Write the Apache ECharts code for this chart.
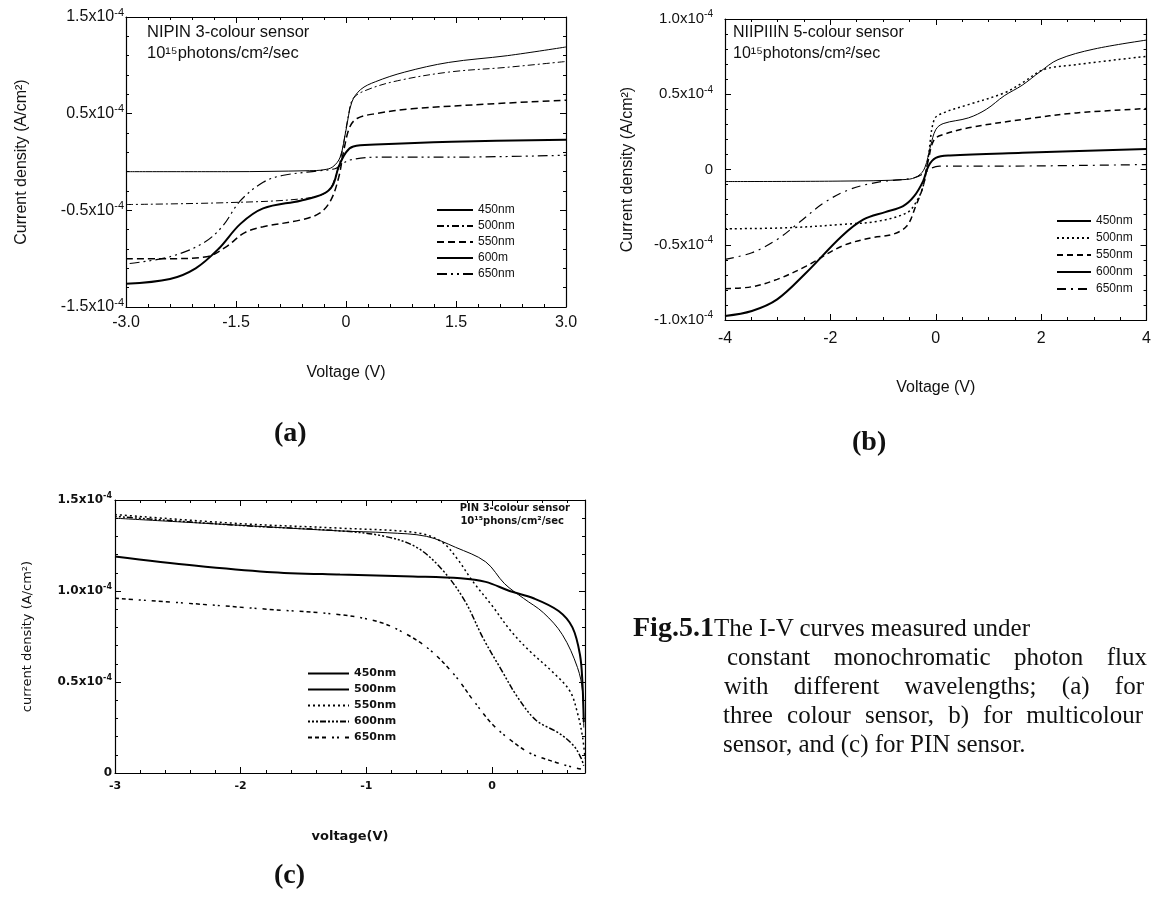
<!DOCTYPE html>
<html>
<head>
<meta charset="utf-8">
<script src="https://cdn.jsdelivr.net/npm/echarts@6/dist/echarts.min.js"></script>
<style>
body { margin: 0; background: #fff; }
#chart { position: absolute; left: 0; top: 0; width: 1154px; height: 905px; }
.cap { position: absolute; font-family: "Liberation Serif", serif; font-size: 25px; line-height: 29px; color: #111; white-space: nowrap; }
.just { width: 420px; text-align: justify; text-align-last: justify; white-space: normal; }
</style>
</head>
<body>
<div id="chart"></div>
<div class="cap" style="left:633px; top:612px;"><b style="font-size:28px">Fig.5.1</b>The I-V curves measured under</div>
<div class="cap just" style="left:727px; top:642px;">constant monochromatic photon flux</div>
<div class="cap just" style="left:724px; top:671px;">with different wavelengths; (a) for</div>
<div class="cap just" style="left:723px; top:700px;">three colour sensor, b) for multicolour</div>
<div class="cap" style="left:723px; top:729px;">sensor, and (c) for PIN sensor.</div>
<script>
//图例名称
var namesA = ['450nm', '500nm', '550nm', '600m', '650nm'];
var namesB = ['450nm', '500nm', '550nm', '600nm', '650nm'];
var namesC = ['450nm', '500nm', '550nm', '600nm', '650nm'];

//(a) NIPIN 3-colour sensor, [voltage V, current density in 1e-4 A/cm2]
var a450 = [[-3, -0.10], [-1.6, -0.10], [-0.5, -0.09], [-0.3, -0.08], [-0.18, -0.05], [-0.08, 0.05], [0, 0.33], [0.08, 0.62], [0.2, 0.75], [0.4, 0.83], [0.8, 0.93], [1.4, 1.03], [2.2, 1.10], [3, 1.19]];
var a500 = [[-3, -0.44], [-1.6, -0.42], [-0.6, -0.38], [-0.26, -0.31], [-0.13, -0.12], [-0.05, 0.12], [0.03, 0.47], [0.1, 0.66], [0.3, 0.75], [0.7, 0.84], [1.4, 0.93], [2.2, 0.98], [3, 1.04]];
var a550 = [[-3, -1.00], [-2.4, -1.00], [-1.9, -0.98], [-1.64, -0.88], [-1.38, -0.73], [-1.13, -0.67], [-0.62, -0.60], [-0.36, -0.53], [-0.21, -0.40], [-0.1, -0.16], [-0.03, 0.12], [0.05, 0.36], [0.15, 0.45], [0.4, 0.50], [0.9, 0.55], [1.95, 0.60], [3, 0.64]];
var a600 = [[-3, -1.26], [-2.4, -1.21], [-2.05, -1.10], [-1.74, -0.90], [-1.44, -0.64], [-1.13, -0.48], [-0.62, -0.40], [-0.31, -0.33], [-0.18, -0.24], [-0.1, -0.05], [0, 0.10], [0.1, 0.16], [0.4, 0.18], [1.44, 0.21], [3, 0.23]];
var a650 = [[-2.95, -1.05], [-2.4, -0.98], [-1.95, -0.84], [-1.69, -0.67], [-1.44, -0.40], [-1.13, -0.21], [-0.87, -0.14], [-0.36, -0.09], [-0.15, -0.07], [-0.05, -0.02], [0.05, 0.02], [0.4, 0.05], [1.44, 0.05], [3, 0.07]];

//(b) NIIPIIIN 5-colour sensor
var b450 = [[-4, -0.08], [-1.8, -0.077], [-0.55, -0.066], [-0.34, -0.044], [-0.21, 0.01], [-0.1, 0.155], [0, 0.265], [0.14, 0.305], [0.62, 0.343], [0.96, 0.40], [1.3, 0.49], [1.64, 0.56], [1.98, 0.65], [2.32, 0.73], [3, 0.80], [4, 0.86]];
var b500 = [[-4, -0.394], [-2.8, -0.387], [-1.78, -0.365], [-1.09, -0.343], [-0.55, -0.288], [-0.38, -0.221], [-0.24, -0.111], [-0.14, 0.088], [-0.03, 0.332], [0.14, 0.376], [0.62, 0.431], [1.3, 0.509], [1.64, 0.575], [2.05, 0.664], [2.67, 0.697], [4, 0.752]];
var b550 = [[-4, -0.792], [-3.49, -0.779], [-3.01, -0.73], [-2.46, -0.642], [-1.78, -0.509], [-1.23, -0.454], [-0.82, -0.431], [-0.55, -0.376], [-0.38, -0.243], [-0.24, -0.111], [-0.14, 0.066], [-0.03, 0.199], [0.14, 0.232], [0.62, 0.277], [1.64, 0.332], [2.67, 0.376], [4, 0.405]];
var b600 = [[-4, -0.973], [-3.49, -0.94], [-3.01, -0.863], [-2.46, -0.686], [-1.78, -0.442], [-1.37, -0.332], [-0.96, -0.283], [-0.62, -0.243], [-0.41, -0.177], [-0.24, -0.077], [-0.14, 0.022], [0, 0.077], [0.27, 0.093], [1.64, 0.111], [4, 0.137]];
var b650 = [[-4, -0.597], [-3.49, -0.553], [-3.01, -0.465], [-2.6, -0.354], [-2.12, -0.221], [-1.64, -0.133], [-1.09, -0.084], [-0.41, -0.055], [-0.21, -0.022], [-0.07, 0.011], [0.07, 0.022], [0.96, 0.022], [4, 0.033]];

//(c) PIN 3-colour sensor
var c450 = [[-3, 1.19], [-2.37, 1.14], [-1.79, 1.105], [-1.21, 1.09], [-0.63, 1.08], [-0.25, 1.07], [-0.05, 1.05], [0.14, 1.0], [0.33, 0.96], [0.53, 0.89], [0.64, 0.80], [0.70, 0.65], [0.72, 0.49], [0.73, 0.28]];
var c500 = [[-3, 1.40], [-1.98, 1.36], [-1.21, 1.33], [-0.83, 1.32], [-0.52, 1.30], [-0.29, 1.24], [-0.05, 1.16], [0.10, 1.04], [0.25, 0.96], [0.41, 0.88], [0.56, 0.76], [0.68, 0.58], [0.72, 0.45], [0.73, 0.25]];
var c550 = [[-3, 1.42], [-2, 1.37], [-1.2, 1.345], [-0.6, 1.32], [-0.4, 1.27], [-0.28, 1.18], [-0.15, 1.05], [0.0, 0.92], [0.15, 0.78], [0.3, 0.67], [0.49, 0.55], [0.62, 0.45], [0.68, 0.33], [0.72, 0.2], [0.74, 0.08]];
var c600 = [[-3, 1.41], [-2, 1.36], [-1.2, 1.33], [-0.85, 1.30], [-0.6, 1.24], [-0.4, 1.12], [-0.22, 0.95], [-0.07, 0.74], [0.08, 0.56], [0.2, 0.42], [0.35, 0.29], [0.53, 0.22], [0.65, 0.15], [0.71, 0.08], [0.73, 0.04]];
var c650 = [[-3, 0.96], [-2.37, 0.93], [-1.79, 0.90], [-1.21, 0.87], [-0.9, 0.83], [-0.7, 0.77], [-0.5, 0.68], [-0.3, 0.54], [-0.15, 0.40], [0.0, 0.27], [0.15, 0.18], [0.3, 0.11], [0.5, 0.06], [0.65, 0.03], [0.72, 0.02]];

var SANS = '"Liberation Sans", Arial, sans-serif';
var WIDE = '"DejaVu Sans", sans-serif';
var SERIF = '"Liberation Serif", serif';

//y轴刻度 1.5x10-4
function sciLabel(v) {
    if (Math.abs(v) < 1e-9) return '{m|0}';
    return '{m|' + v.toFixed(1) + 'x10}{e|-4}';
}
function sciRich(size, weight, family) {
    var es = Math.round(size * 0.68);
    return {
        m: { fontSize: size, fontFamily: family, fontWeight: weight, color: '#111', lineHeight: size + 4 },
        e: { fontSize: es, fontFamily: family, fontWeight: weight, color: '#111', verticalAlign: 'top', lineHeight: es + 1 }
    };
}

//坐标轴 (四边都有内刻度)
function xAx(grid, pos, min, max, interval, split, fmt, o) {
    return {
        type: 'value', gridIndex: grid, position: pos, min: min, max: max, interval: interval,
        axisLine: { show: true, onZero: false, lineStyle: { color: '#000', width: 1.2 } },
        axisTick: { show: true, inside: true, length: 6, lineStyle: { color: '#000' } },
        minorTick: { show: true, splitNumber: split, length: 3, lineStyle: { color: '#000' } },
        splitLine: { show: false },
        axisLabel: { show: pos === 'bottom', formatter: fmt, fontSize: o.size, fontWeight: o.weight, fontFamily: o.family, color: '#111', margin: o.margin },
        name: pos === 'bottom' ? o.name : '', nameLocation: 'middle', nameGap: o.gap,
        nameTextStyle: { fontSize: o.nameSize, fontWeight: o.weight, fontFamily: o.family, color: '#111' }
    };
}
function yAx(grid, pos, min, max, interval, split, o) {
    return {
        type: 'value', gridIndex: grid, position: pos, min: min, max: max, interval: interval,
        axisLine: { show: true, onZero: false, lineStyle: { color: '#000', width: 1.2 } },
        axisTick: { show: true, inside: true, length: 6, lineStyle: { color: '#000' } },
        minorTick: { show: true, splitNumber: split, length: 3, lineStyle: { color: '#000' } },
        splitLine: { show: false },
        axisLabel: { show: pos === 'left', formatter: sciLabel, rich: sciRich(o.size, o.weight, o.family), margin: o.margin },
        name: pos === 'left' ? o.name : '', nameLocation: 'middle', nameGap: o.gap, nameRotate: 90,
        nameTextStyle: { fontSize: o.nameSize, fontWeight: 'normal', fontFamily: o.family, color: '#111' }
    };
}

function curve(id, name, data, axis, width, dash) {
    return {
        name: id + name, type: 'line', xAxisIndex: axis, yAxisIndex: axis, data: data,
        symbol: 'none', smooth: 0.35, silent: true,
        itemStyle: { color: '#000' },
        lineStyle: { color: '#000', width: width, type: dash }
    };
}

function legendOf(id, names, left, top, lineW, gap, size, weight, family) {
    return {
        data: names.map(function (n) { return id + n; }),
        formatter: function (n) { return n.slice(1); },
        orient: 'vertical', left: left, top: top, itemWidth: lineW, itemHeight: 10, itemGap: gap,
        selectedMode: false, padding: 0,
        itemStyle: { color: 'rgba(0,0,0,0)', borderWidth: 0, opacity: 0 },
        textStyle: { fontSize: size, fontWeight: weight, fontFamily: family, color: '#111' }
    };
}

function fmtA(v) { return Math.abs(v) < 1e-9 ? '0' : v.toFixed(1); }
function fmtB(v) { return String(Math.round(v)); }
function fmtC(v) { return Math.abs(v - Math.round(v)) > 1e-6 ? '' : String(Math.round(v)); }

var axA = { size: 16, weight: 'normal', family: SANS, margin: 8, name: 'Voltage (V)', gap: 58, nameSize: 16 };
var axB = { size: 16, weight: 'normal', family: SANS, margin: 11, name: 'Voltage (V)', gap: 60, nameSize: 16 };
var axC = { size: 11, weight: 'bold', family: WIDE, margin: 8, name: 'voltage(V)', gap: 57, nameSize: 13 };
var ayA = { size: 16, weight: 'normal', family: SANS, margin: 2, name: 'Current density (A/cm²)', gap: 96, nameSize: 16 };
var ayB = { size: 15, weight: 'normal', family: SANS, margin: 12, name: 'Current density (A/cm²)', gap: 89, nameSize: 16 };
var ayC = { size: 12, weight: 'bold', family: WIDE, margin: 3, name: 'current density (A/cm²)', gap: 81, nameSize: 13 };

var chart = echarts.init(document.getElementById('chart'));
var option = {
    animation: false,
    backgroundColor: '#fff',
    grid: [
        { left: 126, top: 17, width: 440, height: 290 },
        { left: 725, top: 19, width: 423, height: 301 },
        { left: 115, top: 500, width: 470, height: 273 }
    ],
    xAxis: [
        xAx(0, 'bottom', -3, 3, 1.5, 5, fmtA, axA),
        xAx(1, 'bottom', -4, 4, 2, 4, fmtB, axB),
        xAx(2, 'bottom', -3, 0.74, 1, 5, fmtC, axC),
        xAx(0, 'top', -3, 3, 1.5, 5, fmtA, axA),
        xAx(1, 'top', -4, 4, 2, 4, fmtB, axB),
        xAx(2, 'top', -3, 0.74, 1, 5, fmtC, axC)
    ],
    yAxis: [
        yAx(0, 'left', -1.5, 1.5, 1, 5, ayA),
        yAx(1, 'left', -1, 1, 0.5, 5, ayB),
        yAx(2, 'left', 0, 1.5, 0.5, 5, ayC),
        yAx(0, 'right', -1.5, 1.5, 1, 5, ayA),
        yAx(1, 'right', -1, 1, 0.5, 5, ayB),
        yAx(2, 'right', 0, 1.5, 0.5, 5, ayC)
    ],
    legend: [
        legendOf('a', namesA, 436, 204, 36, 4, 12, 'normal', SANS),
        legendOf('b', namesB, 1056, 215, 34, 5, 12, 'normal', SANS),
        legendOf('c', namesC, 307, 668, 41, 5, 11, 'bold', WIDE)
    ],
    series: [
        curve('a', namesA[0], a450, 0, 1, 'solid'),
        curve('a', namesA[1], a500, 0, 1, [7, 3, 2, 3]),
        curve('a', namesA[2], a550, 0, 1.5, [7, 4]),
        curve('a', namesA[3], a600, 0, 2, 'solid'),
        curve('a', namesA[4], a650, 0, 1.2, [10, 4, 2, 4, 2, 4]),
        curve('b', namesB[0], b450, 1, 1, 'solid'),
        curve('b', namesB[1], b500, 1, 1.5, [2, 3]),
        curve('b', namesB[2], b550, 1, 1.5, [6, 4]),
        curve('b', namesB[3], b600, 1, 2, 'solid'),
        curve('b', namesB[4], b650, 1, 1.2, [9, 5, 2, 5]),
        curve('c', namesC[0], c450, 2, 2, 'solid'),
        curve('c', namesC[1], c500, 2, 1, 'solid'),
        curve('c', namesC[2], c550, 2, 1.5, [2, 3]),
        curve('c', namesC[3], c600, 2, 1.5, [2, 2, 2, 2, 2, 2, 6, 2]),
        curve('c', namesC[4], c650, 2, 1.5, [4, 3, 4, 3, 4, 6, 2, 3, 2, 6])
    ],
    graphic: [
        { type: 'text', left: 147, top: 24, style: { text: 'NIPIN 3-colour sensor', font: '16.5px ' + SANS, fill: '#111' } },
        { type: 'text', left: 147, top: 45, style: { text: '10¹⁵photons/cm²/sec', font: '16.5px ' + SANS, fill: '#111' } },
        { type: 'text', left: 733, top: 25, style: { text: 'NIIPIIIN 5-colour sensor', font: '16px ' + SANS, fill: '#111' } },
        { type: 'text', left: 733, top: 46, style: { text: '10¹⁵photons/cm²/sec', font: '16px ' + SANS, fill: '#111' } },
        { type: 'text', right: 1154 - 570, top: 503, style: { text: 'PIN 3-colour sensor', font: 'bold 10px ' + WIDE, fill: '#111' } },
        { type: 'text', right: 1154 - 564, top: 516, style: { text: '10¹⁵phons/cm²/sec', font: 'bold 10px ' + WIDE, fill: '#111' } },
        { type: 'text', left: 274, top: 420, style: { text: '(a)', font: 'bold 28px ' + SERIF, fill: '#111' } },
        { type: 'text', left: 852, top: 429, style: { text: '(b)', font: 'bold 28px ' + SERIF, fill: '#111' } },
        { type: 'text', left: 274, top: 862, style: { text: '(c)', font: 'bold 28px ' + SERIF, fill: '#111' } }
    ]
};
chart.setOption(option);
</script>
</body>
</html>
